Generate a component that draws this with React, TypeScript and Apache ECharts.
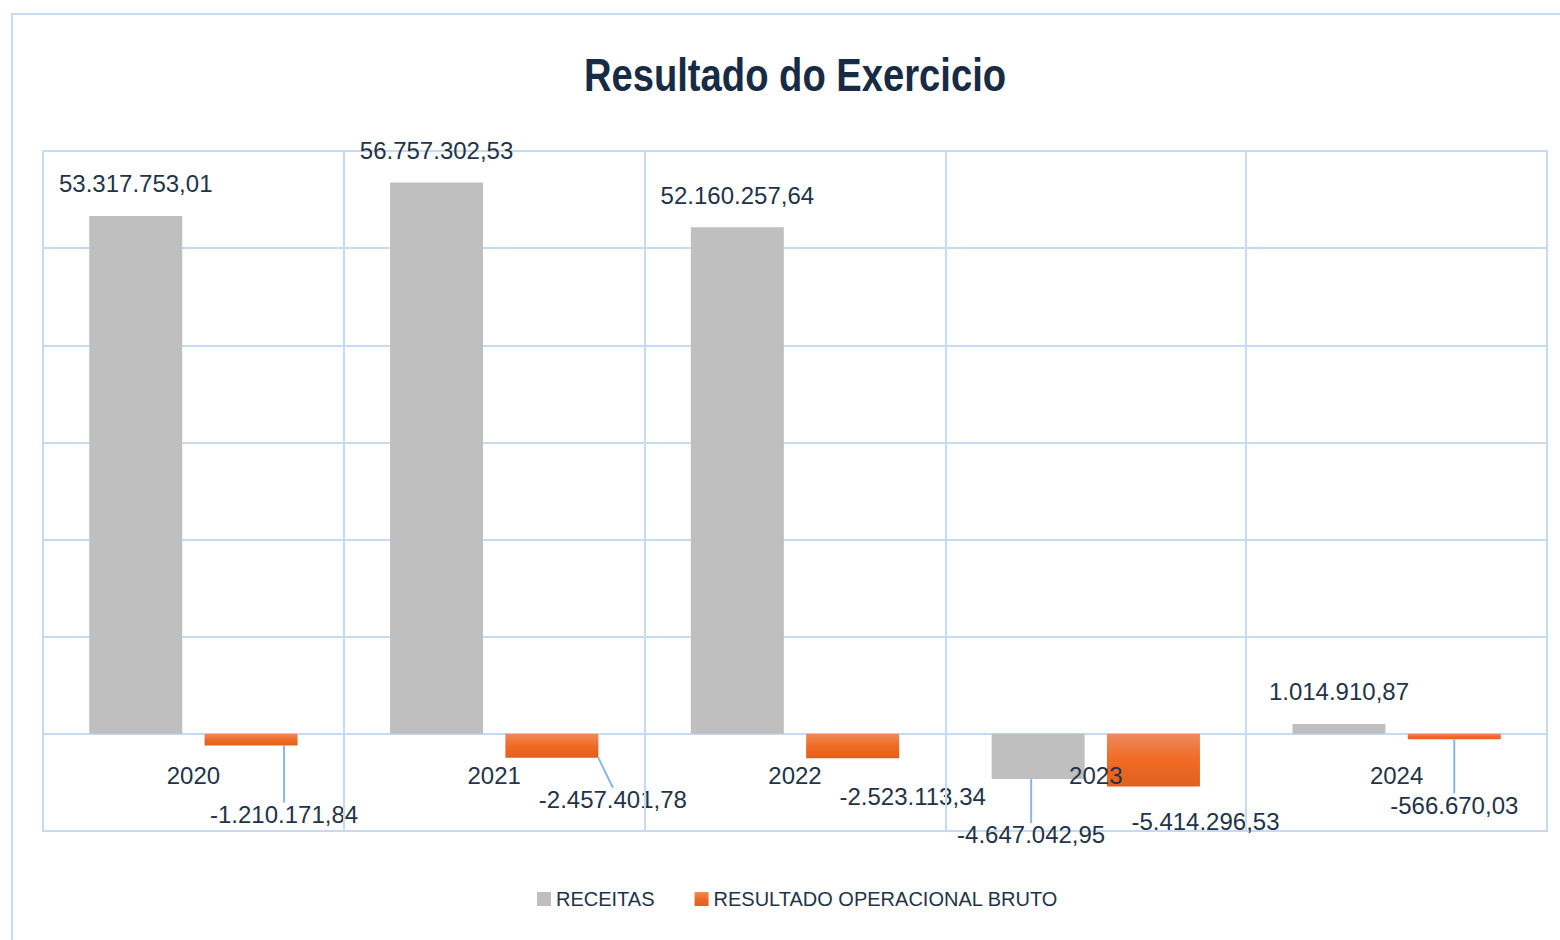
import React, { useEffect, useRef } from "react";
import * as echarts from "echarts";

const categories = ["2020", "2021", "2022", "2023", "2024"];
const receitas = [53317753.01, 56757302.53, 52160257.64, -4647042.95, 1014910.87];
const resultado = [-1210171.84, -2457401.78, -2523113.34, -5414296.53, -566670.03];
const seriesNames = ["RECEITAS", "RESULTADO OPERACIONAL BRUTO"];
const titleText = "Resultado do Exercicio";

// label layout tweaks (offsets of data labels, like the reference's moved callouts)
const receitasLabelShift = [[0, 0], [0, 0], [0, 0], [-7, 38], [0, 0]];
const resultadoLabelShift = [[33, 51], [61, 24], [60, 20], [52, 17], [0, 48]];
const receitasLeader = [false, false, false, true, false];
const resultadoLeader = [true, true, false, false, true];

const FONT = "'Liberation Sans Narrow', 'Arial Narrow', 'Liberation Sans', sans-serif";
const TEXT = "#1F3349";
const GRIDC = "#C6DBF2";

function fmt(v: number): string {
  const neg = v < 0;
  const a = Math.abs(v);
  const intPart = Math.floor(a + 1e-9);
  const dec = Math.round((a - intPart) * 100);
  const s = String(intPart).replace(/\B(?=(\d{3})+(?!\d))/g, ".");
  return (neg ? "-" : "") + s + "," + String(dec).padStart(2, "0");
}

export default function App() {
  const ref = useRef<HTMLDivElement>(null);
  useEffect(() => {
    if (!ref.current) return;
    const chart = echarts.init(ref.current, undefined, { renderer: "svg" });
    const labelBase = {
      show: true,
      fontFamily: FONT,
      fontSize: 24,
      color: TEXT,
      formatter: (p: any) => fmt(p.value),
    };
    const mk = (vals: number[], leaders: boolean[]) =>
      vals.map((v, i) => ({
        value: v,
        label: { position: v >= 0 ? "top" : "bottom", distance: v >= 0 ? 20 : 6 },
        labelLine: { show: leaders[i] },
      }));
    const shifts = [receitasLabelShift, resultadoLabelShift];
    chart.setOption({
      animation: false,
      backgroundColor: "#ffffff",
      graphic: [
        {
          type: "rect",
          shape: { x: 12, y: 14, width: 1700, height: 1100 },
          style: { fill: "none", stroke: GRIDC, lineWidth: 2 },
          silent: true,
          z: -1,
        },
        {
          type: "text",
          x: 795,
          y: 75,
          scaleX: 0.83,
          style: {
            text: titleText,
            fontFamily: FONT,
            fontWeight: "bold",
            fontSize: 46,
            fill: "#172B45",
            textAlign: "center",
            textVerticalAlign: "middle",
          },
          silent: true,
        },
      ],
      legend: {
        left: 532,
        top: 884,
        itemWidth: 14,
        itemHeight: 14,
        itemGap: 40,
        icon: "rect",
        textStyle: { fontFamily: FONT, fontSize: 20, color: TEXT },
        data: seriesNames,
      },
      grid: {
        left: 43,
        right: 13,
        top: 151,
        bottom: 109,
        show: true,
        borderColor: GRIDC,
        borderWidth: 2,
      },
      xAxis: {
        type: "category",
        data: categories,
        z: 5,
        axisLine: { show: false },
        axisTick: { show: false },
        splitLine: { show: true, lineStyle: { color: GRIDC, width: 2 } },
        axisLabel: { fontFamily: FONT, fontSize: 24, color: TEXT, margin: -68 },
      },
      yAxis: {
        type: "value",
        min: -10000000,
        max: 60000000,
        interval: 10000000,
        axisLabel: { show: false },
        axisLine: { show: false },
        axisTick: { show: false },
        splitLine: { show: true, lineStyle: { color: GRIDC, width: 2 } },
      },
      series: [
        {
          name: seriesNames[0],
          type: "bar",
          data: mk(receitas, receitasLeader),
          barWidth: 93,
          barGap: "24%",
          itemStyle: { color: "#BFBFBF" },
          label: labelBase,
          labelLine: { lineStyle: { color: "#8DB6E4", width: 2 } },
        },
        {
          name: seriesNames[1],
          type: "bar",
          data: mk(resultado, resultadoLeader),
          barWidth: 93,
          itemStyle: {
            color: new echarts.graphic.LinearGradient(0, 0, 0, 1, [
              { offset: 0, color: "#EE8A5C" },
              { offset: 0.5, color: "#F06A24" },
              { offset: 1, color: "#E0601E" },
            ]),
          },
          label: labelBase,
          labelLine: { lineStyle: { color: "#8DB6E4", width: 2 } },
        },
      ],
      labelLayout: (p: any) => {
        const s = shifts[p.seriesIndex][p.dataIndex];
        return { dx: s[0], dy: s[1] };
      },
    });
    return () => chart.dispose();
  }, []);
  return (
    <div
      ref={ref}
      style={{ position: "fixed", left: 0, top: 0, width: 1560, height: 940, background: "#fff" }}
    />
  );
}
